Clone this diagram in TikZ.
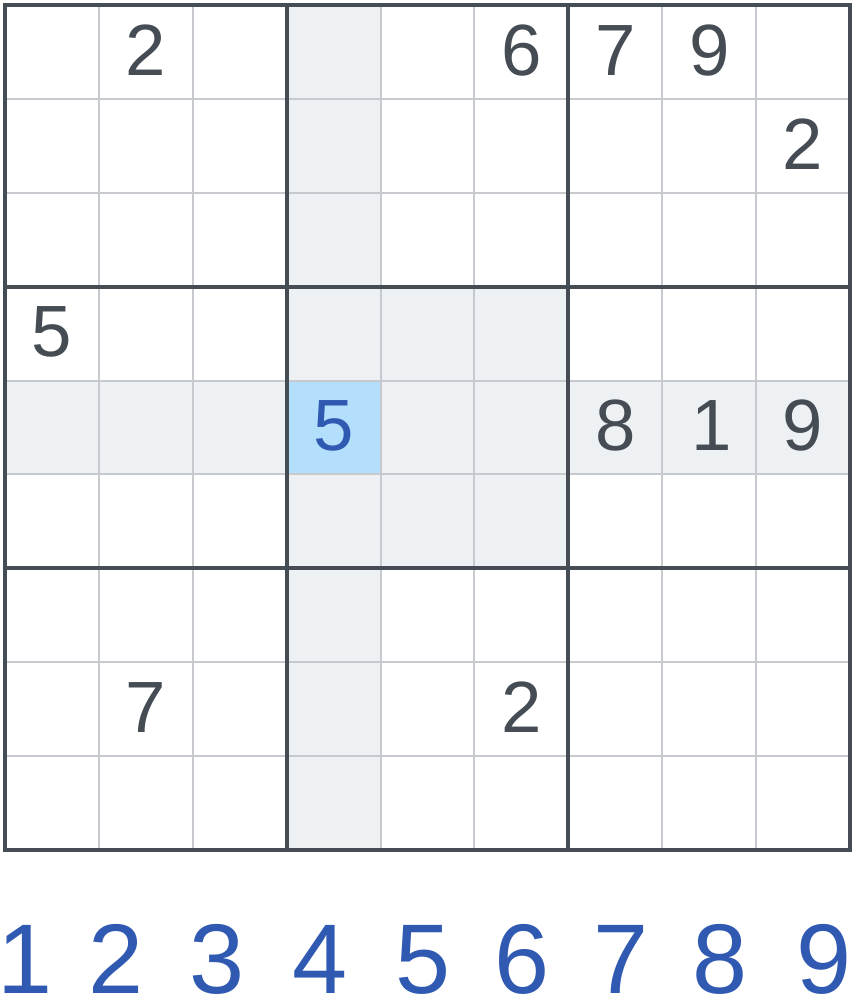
\documentclass[tikz,border=0pt]{standalone}
\usepackage{fontspec}
\setmainfont{Liberation Sans}
\usetikzlibrary{positioning}
\definecolor{inkgray}{HTML}{454C53}
\definecolor{thingray}{HTML}{C6CACE}
\definecolor{peergray}{HTML}{EEF1F4}
\definecolor{pickblue}{HTML}{B3DEFC}
\definecolor{padblue}{HTML}{305AB2}
\begin{document}
\begin{tikzpicture}[
    x=1cm, y=-1cm,
    % Styles
    peer/.style={fill=peergray, draw=none},
    picked/.style={fill=pickblue, draw=none},
    thinline/.style={draw=thingray, line width=0.6pt},
    boxline/.style={draw=inkgray, line width=1.2pt},
    given/.style={font=\fontsize{22}{22}\selectfont, text=inkgray, inner sep=0pt},
    entered/.style={given, text=padblue},
    pad/.style={font=\fontsize{30}{30}\selectfont, text=padblue, inner sep=0pt, anchor=base}
]
    \useasboundingbox (-0.053,-0.053) rectangle (9.084,10.586);

    % Highlighted row, column and box
    \fill[peer] (3,0) rectangle (4,9);
    \fill[peer] (0,4) rectangle (9,5);
    \fill[peer] (3,3) rectangle (6,6);
    \fill[picked] (3,4) rectangle (4,5);

    % Grid lines
    \foreach \i in {1,2,4,5,7,8} {
        \draw[thinline] (\i,0) -- (\i,9);
        \draw[thinline] (0,\i) -- (9,\i);
    }
    \foreach \i in {3,6} {
        \draw[boxline] (\i,0) -- (\i,9);
        \draw[boxline] (0,\i) -- (9,\i);
    }
    \draw[boxline] (0,0) rectangle (9,9);

    % Givens
    \node[given] (r1c2) at (1.5,0.48) {2};
    \node[given] (r1c6) at (5.5,0.48) {6};
    \node[given] (r1c7) at (6.5,0.48) {7};
    \node[given] (r1c8) at (7.5,0.48) {9};
    \node[given] (r2c9) at (8.5,1.48) {2};
    \node[given] (r4c1) at (0.5,3.48) {5};
    \node[entered] (r5c4) at (3.5,4.48) {5};
    \node[given] (r5c7) at (6.5,4.48) {8};
    \node[given] (r5c8) at (7.53,4.48) {1};
    \node[given] (r5c9) at (8.5,4.48) {9};
    \node[given] (r8c2) at (1.5,7.48) {7};
    \node[given] (r8c6) at (5.5,7.48) {2};

    % Number pad
    \foreach \d/\px in {1/25,2/116,3/217,4/320,5/423,6/522,7/621,8/720,9/824}
        \node[pad] (key\d) at ({(\px-5)/93.9},10.53) {\d};
\end{tikzpicture}
\end{document}
